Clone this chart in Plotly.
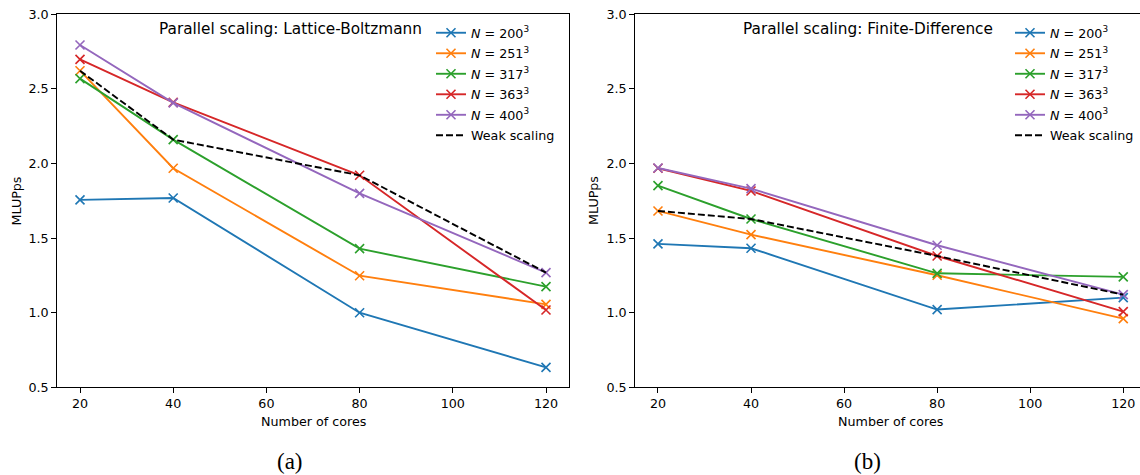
import plotly.graph_objects as go

cores = [20, 40, 80, 120]
labels = ["<i>N</i> = 200<sup>3</sup>", "<i>N</i> = 251<sup>3</sup>", "<i>N</i> = 317<sup>3</sup>",
          "<i>N</i> = 363<sup>3</sup>", "<i>N</i> = 400<sup>3</sup>"]
colors = ["#1f77b4", "#ff7f0e", "#2ca02c", "#d62728", "#9467bd"]

# Lattice-Boltzmann (a)
lb_200 = [1.756, 1.769, 1.000, 0.634]
lb_251 = [2.622, 1.968, 1.248, 1.056]
lb_317 = [2.569, 2.160, 1.429, 1.175]
lb_363 = [2.698, 2.410, 1.921, 1.018]
lb_400 = [2.794, 2.406, 1.800, 1.269]
lb_weak = [2.622, 2.160, 1.921, 1.269]

# Finite-Difference (b)
fd_200 = [1.461, 1.432, 1.021, 1.101]
fd_251 = [1.682, 1.523, 1.251, 0.960]
fd_317 = [1.852, 1.628, 1.264, 1.240]
fd_363 = [1.968, 1.816, 1.380, 1.007]
fd_400 = [1.970, 1.832, 1.452, 1.121]
fd_weak = [1.682, 1.628, 1.380, 1.121]

x_ticks = [20, 40, 60, 80, 100, 120]
y_ticks = [0.5, 1.0, 1.5, 2.0, 2.5, 3.0]

W, H = 1140, 475
FONT = "DejaVu Sans"
FS = 12.7

fig = go.Figure()

panels = [
    ([lb_200, lb_251, lb_317, lb_363, lb_400], lb_weak, "x", "y", "legend", "a"),
    ([fd_200, fd_251, fd_317, fd_363, fd_400], fd_weak, "x2", "y2", "legend2", "b"),
]
for series, weak, xa, ya, lg, tag in panels:
    for i, (vals, lab, col) in enumerate(zip(series, labels, colors)):
        fig.add_trace(go.Scatter(
            x=cores, y=vals, name=lab, mode="lines+markers",
            line=dict(color=col, width=1.9),
            marker=dict(symbol="x-thin", size=9, color=col, line=dict(width=1.6, color=col)),
            xaxis=xa, yaxis=ya, legend=lg, legendgroup=f"{tag}{i}",
        ))
    fig.add_trace(go.Scatter(
        x=cores, y=weak, name="Weak scaling", mode="lines",
        line=dict(color="black", width=1.9, dash="7px,3px"),
        xaxis=xa, yaxis=ya, legend=lg, legendgroup=f"{tag}w",
    ))

def px(v):
    return v / W

def py(v):
    return 1 - v / H

top, bottom = 14.3, 387.3
ydom = [py(bottom), py(top)]

axis_common = dict(
    showgrid=False, zeroline=False, showline=True, linecolor="black", linewidth=1,
    ticks="outside", ticklen=4.5, tickwidth=1, tickcolor="black",
    tickfont=dict(family=FONT, size=FS, color="black"), automargin=False,
)

legend_common = dict(xanchor="left", yanchor="top", bgcolor="rgba(0,0,0,0)", borderwidth=0,
                     font=dict(family=FONT, size=FS, color="black"), itemwidth=30,
                     tracegroupgap=1)

fig.update_layout(
    width=W, height=H,
    margin=dict(l=0, r=0, t=0, b=0),
    paper_bgcolor="white", plot_bgcolor="white",
    font=dict(family=FONT, size=FS, color="black"),
    xaxis=dict(domain=[px(56.7), px(569.3)], range=[15, 125], tickvals=x_ticks,
               mirror=True, anchor="y", **axis_common),
    yaxis=dict(domain=ydom, range=[0.5, 3.0], tickvals=y_ticks, tickformat=".1f",
               mirror=True, anchor="x", **axis_common),
    xaxis2=dict(domain=[px(634.7), 1.0], range=[15, 15 + (1140 - 634.7) / 4.653], tickvals=x_ticks,
                mirror=True, anchor="y2", **axis_common),
    yaxis2=dict(domain=ydom, range=[0.5, 3.0], tickvals=y_ticks, tickformat=".1f",
                mirror=False, anchor="x2", **axis_common),
    legend=dict(x=px(431), y=py(18), **legend_common),
    legend2=dict(x=px(1010), y=py(18), **legend_common),
)

annos = [
    dict(text="Parallel scaling: Lattice-Boltzmann", x=px(290), y=py(29), size=15.3, angle=0, family=FONT),
    dict(text="Parallel scaling: Finite-Difference", x=px(868), y=py(29), size=15.3, angle=0, family=FONT),
    dict(text="Number of cores", x=px(313), y=py(421), size=FS, angle=0, family=FONT),
    dict(text="Number of cores", x=px(890), y=py(421), size=FS, angle=0, family=FONT),
    dict(text="MLUPps", x=px(15.5), y=py(201), size=FS, angle=-90, family=FONT),
    dict(text="MLUPps", x=px(593), y=py(201), size=FS, angle=-90, family=FONT),
    dict(text="(a)", x=px(290), y=py(461), size=23, angle=0, family="Liberation Serif"),
    dict(text="(b)", x=px(867), y=py(461), size=23, angle=0, family="Liberation Serif"),
]
for a in annos:
    fig.add_annotation(text=a["text"], x=a["x"], y=a["y"], xref="paper", yref="paper",
                       xanchor="center", yanchor="middle", showarrow=False, textangle=a["angle"],
                       font=dict(family=a["family"], size=a["size"], color="black"))

fig.write_html("out.html", config={"displayModeBar": False},
               post_script="document.body.style.margin='0';document.body.style.overflow='hidden';")
